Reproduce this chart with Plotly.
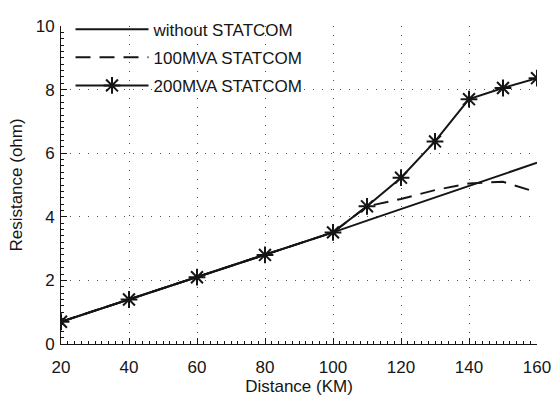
import plotly.graph_objects as go

# Line resistance seen by the distance relay versus fault distance
distance_km = [20, 40, 60, 80, 100, 110, 120, 130, 140, 150, 160]
r_without = [0.70, 1.40, 2.10, 2.80, 3.51, 3.88, 4.24, 4.61, 4.97, 5.34, 5.70]
r_100mva = [0.70, 1.40, 2.10, 2.80, 3.51, 4.33, 4.56, 4.84, 5.05, 5.10, 4.77]
r_200mva = [0.70, 1.40, 2.10, 2.80, 3.51, 4.33, 5.23, 6.37, 7.70, 8.05, 8.36]

x_ticks = [20, 40, 60, 80, 100, 120, 140, 160]
y_ticks = [0, 2, 4, 6, 8, 10]

INK = "#151515"
FONT = dict(family="Liberation Sans, Arial, sans-serif", size=17, color=INK)

fig = go.Figure()
fig.add_trace(go.Scatter(
    x=distance_km, y=r_without, mode="lines", name="without STATCOM",
    legendgroup="a", line=dict(color=INK, width=2),
))
fig.add_trace(go.Scatter(
    x=distance_km, y=r_100mva, mode="lines", name="100MVA STATCOM",
    legendgroup="b", line=dict(color=INK, width=2, dash="15px,9px"),
))
fig.add_trace(go.Scatter(
    x=distance_km, y=r_200mva, mode="lines+markers", name="200MVA STATCOM",
    legendgroup="c", line=dict(color=INK, width=2),
    marker=dict(symbol="asterisk-open", size=14, color=INK,
                line=dict(color=INK, width=2)),
))

grid = dict(showgrid=True, gridcolor="#555555", gridwidth=1, griddash="1px,8px")

fig.update_xaxes(
    range=[20, 160], tickvals=x_ticks, ticks="inside", ticklen=6,
    tickcolor=INK, showline=True, linecolor=INK, linewidth=1,
    zeroline=False, tickfont=FONT, ticklabelstandoff=8, automargin=False,
    title=dict(text="Distance (KM)", font=FONT, standoff=0),
    minor=dict(dtick=2, ticks="inside", ticklen=3, tickcolor=INK, showgrid=False),
    **grid,
)
fig.update_yaxes(
    range=[0, 10], tickvals=y_ticks, ticks="inside", ticklen=6,
    tickcolor=INK, showline=True, linecolor=INK, linewidth=1,
    zeroline=False, tickfont=FONT, ticklabelstandoff=2, automargin=False,
    title=dict(text="Resistance (ohm)", font=FONT, standoff=8),
    minor=dict(dtick=0.2, ticks="inside", ticklen=3, tickcolor=INK, showgrid=False),
    **grid,
)

fig.update_layout(
    width=552, height=399,
    margin=dict(l=61, r=15, t=14, b=55),
    paper_bgcolor="white", plot_bgcolor="white",
    font=FONT,
    showlegend=True,
    legend=dict(
        x=0.02, y=1.045, xanchor="left", yanchor="top",
        bgcolor="rgba(0,0,0,0)", borderwidth=0,
        font=FONT, itemwidth=73, tracegroupgap=3,
    ),
)

fig.write_html("out.html")
